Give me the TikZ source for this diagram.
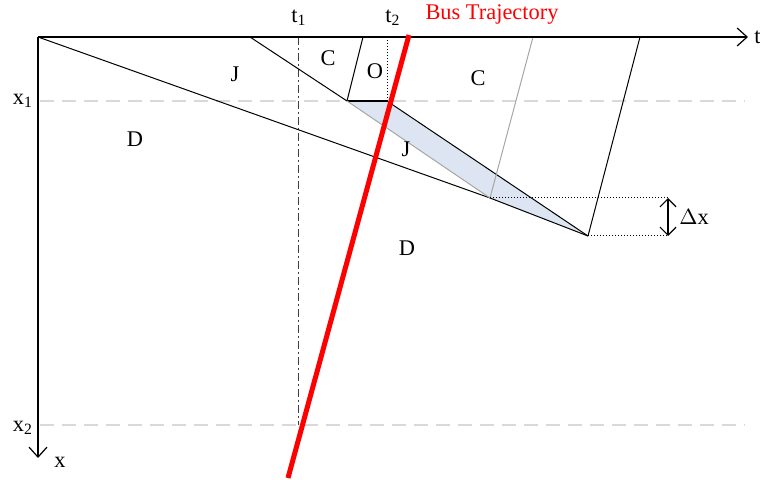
\documentclass[tikz,border=0pt]{standalone}
\usepackage{fontspec}
\setmainfont{Liberation Serif}
\usepackage{xcolor}
\usetikzlibrary{arrows.meta, positioning}

\definecolor{jamfill}{HTML}{DCE5F1}
\definecolor{guide}{HTML}{D9D9D9}

\begin{document}
\begin{tikzpicture}[
    x=0.5pt, y=-0.5pt,
    lbl/.style={font=\fontsize{11.2}{13.4}\selectfont, inner sep=1pt},
    axis/.style={-{Straight Barb[length=5pt, width=9pt]}, line width=0.6pt},
    wave/.style={line width=0.5pt},
    ghost/.style={line width=0.5pt, draw=gray!70},
    level/.style={draw=guide, line width=0.6pt, dash pattern=on 7pt off 4pt},
    bus/.style={draw=red, line width=2.5pt}
]
\useasboundingbox (0,0) rectangle (760,480);

% key points
\coordinate (o) at (38,37);
\coordinate (tend) at (748,37);
\coordinate (xend) at (38,458);
\coordinate (a) at (250,37);
\coordinate (b) at (363,37);
\coordinate (p) at (347,101);
\coordinate (q) at (387,101);
\coordinate (r) at (490,198);
\coordinate (s) at (588,236);
\coordinate (g) at (533,37);
\coordinate (k) at (640,37);
\coordinate (t1top) at (298,37);
\coordinate (t1bot) at (298,425);
\coordinate (t2top) at (387,37);
\coordinate (bustop) at (409,35);
\coordinate (busbot) at (288,478);
\coordinate (m1) at (668,198);
\coordinate (m2) at (668,236);
\coordinate (x1l) at (40,101);
\coordinate (x1r) at (745,101);
\coordinate (x2l) at (40,425);
\coordinate (x2r) at (745,425);

% shaded jam region
\fill[jamfill] (p) -- (q) -- (s) -- (r) -- cycle;

% levels x1, x2
\draw[level] (x1l) -- (x1r);
\draw[level] (x2l) -- (x2r);

% times t1, t2
\draw[line width=0.5pt, draw=black!75, dash pattern=on 4pt off 1.5pt on 1pt off 1.5pt] (t1top) -- (t1bot);
\draw[line width=0.5pt, densely dotted] (t2top) -- (q);

% shock waves
\draw[wave] (o) -- (r);
\draw[wave] (r) -- (s);
\draw[wave] (a) -- (p);
\draw[wave] (b) -- (p);
\draw[line width=1pt] (p) -- (q);
\draw[wave] (q) -- (s);
\draw[wave] (k) -- (s);
\draw[ghost] (p) -- (r);
\draw[ghost] (g) -- (r);

% delta x
\draw[line width=0.5pt, densely dotted] (r) -- (m1);
\draw[line width=0.5pt, densely dotted] (s) -- (m2);
\draw[{Straight Barb[length=4pt, width=8pt]}-{Straight Barb[length=4pt, width=8pt]}, line width=0.6pt] (m1) -- (m2);

% axes
\draw[axis] (o) -- (tend);
\draw[axis] (o) -- (xend);

% bus
\draw[bus] (bustop) -- (busbot);

% labels
\node[lbl, anchor=west] (tlbl) at (752,37) {t};
\node[lbl] (xlbl) at (60,462) {x};
\node[lbl] (x1lbl) at (23,101) {x\textsubscript{1}};
\node[lbl] (x2lbl) at (23,428) {x\textsubscript{2}};
\node[lbl] (t1lbl) at (299,18) {t\textsubscript{1}};
\node[lbl] (t2lbl) at (393,18) {t\textsubscript{2}};
\node[lbl, text=red] (buslbl) at (492,15) {Bus Trajectory};
\node[lbl] (j1) at (235,74) {J};
\node[lbl] (c1) at (328,58) {C};
\node[lbl] (o1) at (375,71) {O};
\node[lbl] (c2) at (478,78) {C};
\node[lbl] (d1) at (135,139) {D};
\node[lbl] (j2) at (406,149) {J};
\node[lbl] (d2) at (407,248) {D};
\node[lbl] (dx) at (694,217) {$\Delta$x};
\end{tikzpicture}
\end{document}
